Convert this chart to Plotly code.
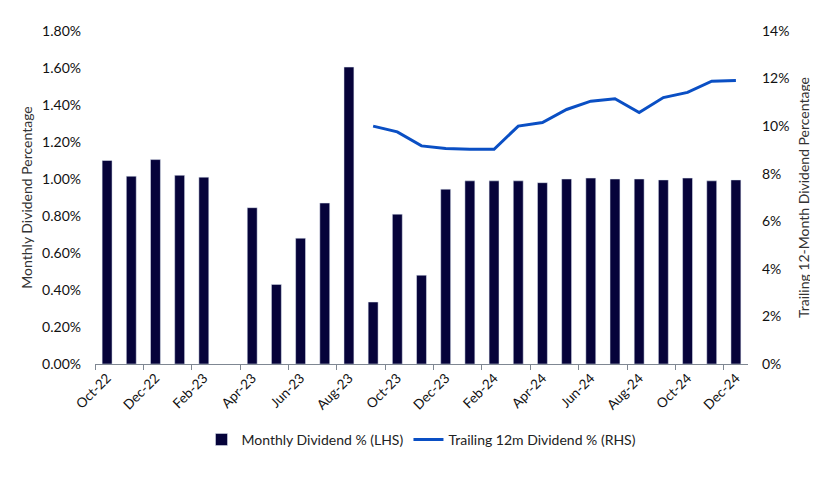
import plotly.graph_objects as go

# Data (values in percent)
months = ["Oct-22", "Nov-22", "Dec-22", "Jan-23", "Feb-23", "Mar-23", "Apr-23", "May-23", "Jun-23",
          "Jul-23", "Aug-23", "Sep-23", "Oct-23", "Nov-23", "Dec-23", "Jan-24", "Feb-24", "Mar-24",
          "Apr-24", "May-24", "Jun-24", "Jul-24", "Aug-24", "Sep-24", "Oct-24", "Nov-24", "Dec-24"]

monthly_div = [1.10, 1.015, 1.105, 1.02, 1.01, None, 0.845, 0.43, 0.68,
               0.87, 1.605, 0.335, 0.81, 0.48, 0.945, 0.99, 0.99, 0.99,
               0.98, 1.0, 1.005, 1.0, 1.0, 0.995, 1.005, 0.99, 0.995]

trailing_12m = [None, None, None, None, None, None, None, None, None,
                None, None, 10.0, 9.76, 9.17, 9.06, 9.03, 9.03, 10.0,
                10.15, 10.7, 11.05, 11.15, 10.57, 11.2, 11.42, 11.89, 11.92]

font_family = "Lato, 'Open Sans', sans-serif"

fig = go.Figure()

fig.add_trace(go.Bar(
    x=months, y=monthly_div,
    name="Monthly Dividend % (LHS)",
    marker_color="#06033A",
))

fig.add_trace(go.Scatter(
    x=months, y=trailing_12m,
    name="Trailing 12m Dividend % (RHS)",
    mode="lines",
    line=dict(color="#0A4FC4", width=3),
    yaxis="y2",
))

# page body has an 8px margin, so margins are offset to compensate
fig.update_layout(
    width=818, height=480,
    margin=dict(l=87, r=78, t=23, b=124),
    paper_bgcolor="white",
    plot_bgcolor="white",
    font=dict(family=font_family, size=13, color="#111111"),
    bargap=0.59,
    showlegend=True,
    legend=dict(orientation="h", x=0.5, xanchor="center", y=-0.228, yanchor="middle",
                font=dict(size=14, color="#222222")),
    xaxis=dict(
        type="category",
        tickangle=-45,
        dtick=2,
        tickson="boundaries",
        ticks="outside",
        ticklen=5,
        tickcolor="#7f8792",
        showline=True,
        linecolor="#7f8792",
        linewidth=1,
        showgrid=False,
        tickfont=dict(size=13.5),
    ),
    yaxis=dict(
        range=[0, 1.8],
        dtick=0.2,
        tickformat=".2f",
        ticksuffix="%",
        showgrid=False,
        zeroline=False,
        ticklabelstandoff=13,
        title=dict(text="Monthly Dividend Percentage", font=dict(size=14, color="#333333"), standoff=6),
        tickfont=dict(size=14),
    ),
    yaxis2=dict(
        range=[0, 14],
        dtick=2,
        tickformat=".0f",
        ticksuffix="%",
        overlaying="y",
        side="right",
        showgrid=False,
        zeroline=False,
        ticklabelstandoff=13,
        title=dict(text="Trailing 12-Month Dividend Percentage", font=dict(size=14, color="#333333"), standoff=10),
        tickfont=dict(size=14),
    ),
)

fig.write_html("out.html")
